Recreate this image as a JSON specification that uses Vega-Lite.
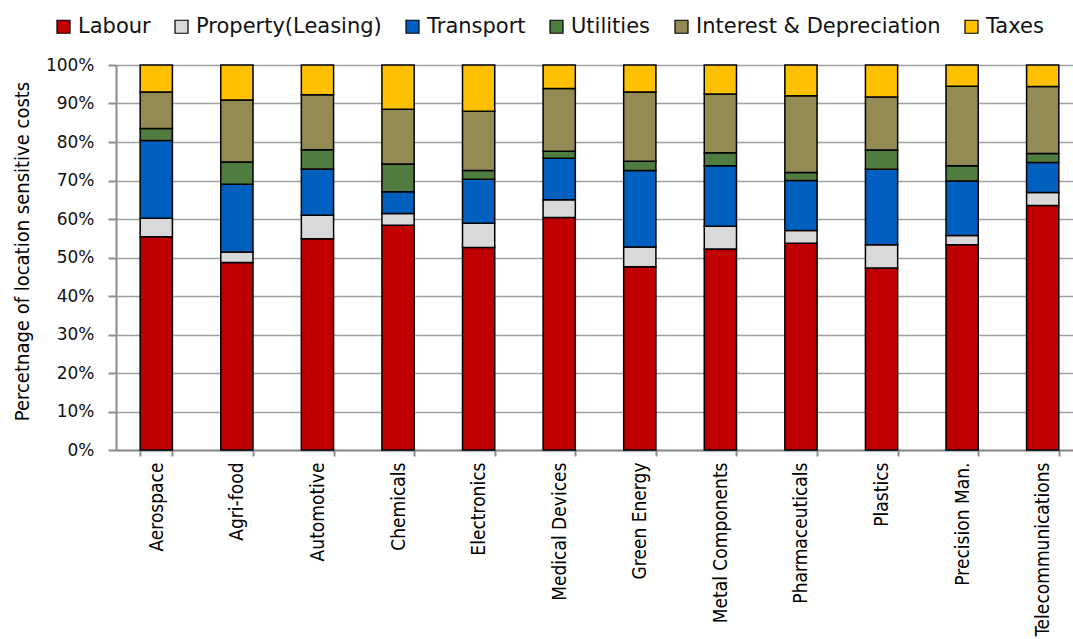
{
  "$schema": "https://vega.github.io/schema/vega-lite/v6.json",
  "autosize": {"type": "none"},
  "padding": {"left": 116, "top": 65, "right": 0, "bottom": 189},
  "width": 967,
  "height": 385,
  "background": "white",
  "config": {"view": {"stroke": null}},
  "data": {"values": [
    {"industry": "Aerospace", "cost": "Labour", "k": 1, "pct": 55.4},
    {"industry": "Aerospace", "cost": "Property(Leasing)", "k": 2, "pct": 4.8},
    {"industry": "Aerospace", "cost": "Transport", "k": 3, "pct": 20.2},
    {"industry": "Aerospace", "cost": "Utilities", "k": 4, "pct": 3.1},
    {"industry": "Aerospace", "cost": "Interest & Depreciation", "k": 5, "pct": 9.5},
    {"industry": "Aerospace", "cost": "Taxes", "k": 6, "pct": 7.0},
    {"industry": "Agri-food", "cost": "Labour", "k": 1, "pct": 48.7},
    {"industry": "Agri-food", "cost": "Property(Leasing)", "k": 2, "pct": 2.7},
    {"industry": "Agri-food", "cost": "Transport", "k": 3, "pct": 17.6},
    {"industry": "Agri-food", "cost": "Utilities", "k": 4, "pct": 5.8},
    {"industry": "Agri-food", "cost": "Interest & Depreciation", "k": 5, "pct": 16.1},
    {"industry": "Agri-food", "cost": "Taxes", "k": 6, "pct": 9.1},
    {"industry": "Automotive", "cost": "Labour", "k": 1, "pct": 54.9},
    {"industry": "Automotive", "cost": "Property(Leasing)", "k": 2, "pct": 6.1},
    {"industry": "Automotive", "cost": "Transport", "k": 3, "pct": 12.0},
    {"industry": "Automotive", "cost": "Utilities", "k": 4, "pct": 5.0},
    {"industry": "Automotive", "cost": "Interest & Depreciation", "k": 5, "pct": 14.3},
    {"industry": "Automotive", "cost": "Taxes", "k": 6, "pct": 7.7},
    {"industry": "Chemicals", "cost": "Labour", "k": 1, "pct": 58.4},
    {"industry": "Chemicals", "cost": "Property(Leasing)", "k": 2, "pct": 3.0},
    {"industry": "Chemicals", "cost": "Transport", "k": 3, "pct": 5.7},
    {"industry": "Chemicals", "cost": "Utilities", "k": 4, "pct": 7.2},
    {"industry": "Chemicals", "cost": "Interest & Depreciation", "k": 5, "pct": 14.2},
    {"industry": "Chemicals", "cost": "Taxes", "k": 6, "pct": 11.5},
    {"industry": "Electronics", "cost": "Labour", "k": 1, "pct": 52.6},
    {"industry": "Electronics", "cost": "Property(Leasing)", "k": 2, "pct": 6.3},
    {"industry": "Electronics", "cost": "Transport", "k": 3, "pct": 11.4},
    {"industry": "Electronics", "cost": "Utilities", "k": 4, "pct": 2.3},
    {"industry": "Electronics", "cost": "Interest & Depreciation", "k": 5, "pct": 15.4},
    {"industry": "Electronics", "cost": "Taxes", "k": 6, "pct": 12.0},
    {"industry": "Medical Devices", "cost": "Labour", "k": 1, "pct": 60.4},
    {"industry": "Medical Devices", "cost": "Property(Leasing)", "k": 2, "pct": 4.6},
    {"industry": "Medical Devices", "cost": "Transport", "k": 3, "pct": 10.8},
    {"industry": "Medical Devices", "cost": "Utilities", "k": 4, "pct": 1.8},
    {"industry": "Medical Devices", "cost": "Interest & Depreciation", "k": 5, "pct": 16.3},
    {"industry": "Medical Devices", "cost": "Taxes", "k": 6, "pct": 6.1},
    {"industry": "Green Energy", "cost": "Labour", "k": 1, "pct": 47.6},
    {"industry": "Green Energy", "cost": "Property(Leasing)", "k": 2, "pct": 5.1},
    {"industry": "Green Energy", "cost": "Transport", "k": 3, "pct": 19.9},
    {"industry": "Green Energy", "cost": "Utilities", "k": 4, "pct": 2.4},
    {"industry": "Green Energy", "cost": "Interest & Depreciation", "k": 5, "pct": 18.0},
    {"industry": "Green Energy", "cost": "Taxes", "k": 6, "pct": 7.0},
    {"industry": "Metal Components", "cost": "Labour", "k": 1, "pct": 52.2},
    {"industry": "Metal Components", "cost": "Property(Leasing)", "k": 2, "pct": 5.9},
    {"industry": "Metal Components", "cost": "Transport", "k": 3, "pct": 15.7},
    {"industry": "Metal Components", "cost": "Utilities", "k": 4, "pct": 3.4},
    {"industry": "Metal Components", "cost": "Interest & Depreciation", "k": 5, "pct": 15.3},
    {"industry": "Metal Components", "cost": "Taxes", "k": 6, "pct": 7.5},
    {"industry": "Pharmaceuticals", "cost": "Labour", "k": 1, "pct": 53.7},
    {"industry": "Pharmaceuticals", "cost": "Property(Leasing)", "k": 2, "pct": 3.3},
    {"industry": "Pharmaceuticals", "cost": "Transport", "k": 3, "pct": 13.0},
    {"industry": "Pharmaceuticals", "cost": "Utilities", "k": 4, "pct": 2.1},
    {"industry": "Pharmaceuticals", "cost": "Interest & Depreciation", "k": 5, "pct": 19.9},
    {"industry": "Pharmaceuticals", "cost": "Taxes", "k": 6, "pct": 8.0},
    {"industry": "Plastics", "cost": "Labour", "k": 1, "pct": 47.3},
    {"industry": "Plastics", "cost": "Property(Leasing)", "k": 2, "pct": 6.0},
    {"industry": "Plastics", "cost": "Transport", "k": 3, "pct": 19.6},
    {"industry": "Plastics", "cost": "Utilities", "k": 4, "pct": 5.0},
    {"industry": "Plastics", "cost": "Interest & Depreciation", "k": 5, "pct": 13.8},
    {"industry": "Plastics", "cost": "Taxes", "k": 6, "pct": 8.3},
    {"industry": "Precision Man.", "cost": "Labour", "k": 1, "pct": 53.3},
    {"industry": "Precision Man.", "cost": "Property(Leasing)", "k": 2, "pct": 2.4},
    {"industry": "Precision Man.", "cost": "Transport", "k": 3, "pct": 14.2},
    {"industry": "Precision Man.", "cost": "Utilities", "k": 4, "pct": 3.9},
    {"industry": "Precision Man.", "cost": "Interest & Depreciation", "k": 5, "pct": 20.7},
    {"industry": "Precision Man.", "cost": "Taxes", "k": 6, "pct": 5.5},
    {"industry": "Telecommunications", "cost": "Labour", "k": 1, "pct": 63.5},
    {"industry": "Telecommunications", "cost": "Property(Leasing)", "k": 2, "pct": 3.4},
    {"industry": "Telecommunications", "cost": "Transport", "k": 3, "pct": 7.8},
    {"industry": "Telecommunications", "cost": "Utilities", "k": 4, "pct": 2.3},
    {"industry": "Telecommunications", "cost": "Interest & Depreciation", "k": 5, "pct": 17.4},
    {"industry": "Telecommunications", "cost": "Taxes", "k": 6, "pct": 5.6}
  ]},
  "mark": {"type": "bar", "stroke": "black", "strokeWidth": 1.5},
  "encoding": {
    "x": {
      "field": "industry", "type": "nominal", "sort": null,
      "scale": {"paddingInner": 0.6, "paddingOuter": 0.3},
      "axis": {
        "title": null, "labelAngle": -90, "labelAlign": "right", "labelBaseline": "middle",
        "labelFont": "DejaVu Sans Condensed", "labelFontSize": 19, "labelColor": "black",
        "labelPadding": 6, "tickBand": "extent", "tickSize": 6, "tickColor": "#8c8c8c", "tickWidth": 2,
        "domainColor": "#8c8c8c", "domainWidth": 2, "labelOverlap": false, "labelLimit": 400
      }
    },
    "y": {
      "field": "pct", "type": "quantitative", "stack": "zero",
      "scale": {"domain": [0, 100], "nice": false},
      "axis": {
        "title": "Percetnage of location sensitive costs",
        "titleFont": "DejaVu Sans Condensed", "titleFontSize": 20, "titleFontWeight": "normal", "titleColor": "black",
        "titleAngle": -90, "titleX": -94, "titleY": 186, "titleAlign": "center", "titleBaseline": "middle",
        "values": [0, 10, 20, 30, 40, 50, 60, 70, 80, 90, 100],
        "labelExpr": "datum.value + '%'",
        "labelFont": "DejaVu Sans", "labelFontSize": 17, "labelColor": "#111",
        "labelPadding": 14, "tickSize": 8, "tickColor": "#8c8c8c", "tickWidth": 2,
        "domainColor": "#8c8c8c", "domainWidth": 2,
        "grid": true, "gridColor": "#a0a0a0", "gridWidth": 1.5
      }
    },
    "color": {
      "field": "cost", "type": "nominal",
      "scale": {
        "domain": ["Labour", "Property(Leasing)", "Transport", "Utilities", "Interest & Depreciation", "Taxes"],
        "range": ["#C00000", "#D9D9D9", "#0060C0", "#4F7D3F", "#948A54", "#FFC000"]
      },
      "legend": {
        "title": null, "orient": "none", "direction": "horizontal", "columns": 6,
        "legendX": -63, "legendY": -49,
        "symbolType": "square", "symbolSize": 169, "symbolStrokeColor": "black", "symbolStrokeWidth": 1.2,
        "labelFont": "DejaVu Sans", "labelFontSize": 21, "labelColor": "#111",
        "labelOffset": 4, "columnPadding": 20, "labelLimit": 500
      }
    },
    "order": {"field": "k", "type": "quantitative", "sort": "ascending"}
  }
}
